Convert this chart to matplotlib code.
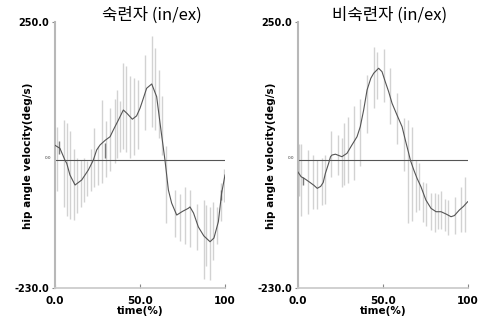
import matplotlib
matplotlib.use("Agg")
import matplotlib.pyplot as plt

# ---- data: mean curves (time %, deg/s) ----
exp_t = [0, 2.9, 5.9, 6.9, 8.8, 11.8, 15.7, 19.6, 20.6, 22.5, 24.5, 26.5, 29.5,
         32.4, 34.3, 37.3, 40.2, 42.5, 45.5, 48, 50, 51, 53.9, 56.9, 59.8,
         61.8, 64.7, 66.7, 68.6, 71.6, 75, 78.4, 79.4, 81.5, 84.3, 87.5,
         91.2, 93.5, 96.1, 98, 100]
exp_v = [27, 21.6, 0, -5.4, -26.5, -44.5, -35.5, -17.5, -11.5, 0, 18.6, 27.6,
         36, 42.5, 54.6, 72.6, 90.6, 84, 74, 80, 93.7, 102.7, 129.7, 137.5,
         114.6, 66.7, 0, -53.5, -77, -98.6, -92, -86.5, -84, -95, -119.9,
         -136, -146.7, -140, -110.6, -59.5, -26.5]

nov_t = [0, 2, 4.5, 7.2, 9.5, 11.5, 13.5, 15, 16.3, 18.2, 19.3, 20.2, 22.2,
         26, 29, 31.9, 34.9, 36.8, 38.8, 40.8, 43, 44.7, 47.6, 49.6, 51.5,
         53.5, 55.5, 58.4, 61.4, 63.3, 65.3, 66.3, 68.3, 70.2, 72.5, 75.4,
         78.4, 81.4, 84.3, 87.3, 90.2, 92.2, 95.1, 97.5, 100]
nov_v = [-20.5, -29.5, -34, -39.8, -45, -50.5, -47, -40, -23.4, -5.4, 6.5,
         9.5, 11, 6.5, 12.6, 27.6, 42.5, 60.5, 90.6, 126.7, 147.7, 156.8,
         165.8, 159.6, 141.6, 123.6, 102.7, 81.6, 60.5, 36.6, 12.6, 0, -17.5,
         -32.4, -47.6, -71.5, -86.5, -92.6, -92.6, -96.8, -101.6, -99.5,
         -89.5, -83, -74.6]

# ---- data: SD bars (time %, low, high) ----
exp_bar_t = [1, 5, 7, 9, 11, 13, 15, 17, 19, 21, 23, 25, 27.5, 30, 32.5, 35,
             36.5, 38.5, 40, 42, 44, 46.5, 49, 53, 57, 59, 61, 63, 65.5, 70.5,
             73.5, 76.5, 79.5, 83.5, 87.5, 89, 91, 93, 95, 97.5, 99.5]
exp_bar_lo = [-55, -85, -100, -105, -108, -95, -85, -75, -65, -55, -48, -45,
              -40, -30, -20, -5, 5, 15, 20, 15, 5, 10, 20, 55, 60, 55, 40, 10,
              -113, -138, -145, -150, -156, -162, -213, -190, -216, -180,
              -150, -110, -75]
exp_bar_hi = [60, 72, 67, 52, 20, 5, 0, 5, -2, 20, 58, 25, 108, 70, 94, 110,
              127, 106, 175, 169, 151, 148, 145, 190, 223, 202, 163, 115, 25,
              -53, -60, -48, -54, -78, -72, -80, -84, -75, -84, -40, -15]

nov_bar_t = [0.5, 2.2, 6.2, 9, 11.5, 14, 16, 19.6, 23.5, 26, 27.4, 29.3, 32.9,
             36.4, 40.8, 44.7, 46.7, 50.6, 54.1, 58.4, 62.4, 65, 67.3, 69.5,
             71.5, 73.7, 75.2, 78.6, 80.6, 82.5, 84.5, 86.4, 88.4, 92.3, 96.3,
             98.2]
nov_bar_lo = [-65, -100, -97, -88, -88, -80, -78, -30, -27, -48, -45, -40,
              -36, -10, 50, 95, 110, 105, 65, 30, -20, -113, -110, -93, -90,
              -111, -119, -126, -129, -124, -124, -127, -135, -132, -129,
              -129]
nov_bar_hi = [30, 29, 19, 10, 0, 5, 10, 52, 46, 40, 67, 78, 98, 110, 154,
              204, 195, 201, 166, 121, 76, 73, 60, 0, -5, -39, -41, -59, -59,
              -60, -56, -69, -72, -66, -48, -30]

# darker short segments (time %, low, high)
exp_dark = [(2.4, 12, 35), (29.4, 4, 31), (97.6, -71, -53)]
nov_dark = [(3, -45, -30)]

panels = [
    ("숙련자 (in/ex)", exp_t, exp_v, exp_bar_t, exp_bar_lo, exp_bar_hi, exp_dark, 0.57),
    ("비숙련자 (in/ex)", nov_t, nov_v, nov_bar_t, nov_bar_lo, nov_bar_hi, nov_dark, 0.54),
]

fig = plt.figure(figsize=(4.8, 3.24), dpi=100)
lefts = [55 / 480, 297.7 / 480]
bold = dict(fontweight="bold", family="DejaVu Sans")

for (title, t, v, bt, blo, bhi, dark, tx), left in zip(panels, lefts):
    ax = fig.add_axes([left, 36 / 324, 170 / 480, 266.5 / 324])

    ax.vlines(bt, blo, bhi, color="#d2d2d2", lw=1.0, zorder=1)
    for x, lo, hi in dark:
        ax.vlines(x, lo, hi, color="#7a7a7a", lw=1.0, zorder=2)
    ax.axhline(0, color="#555555", lw=0.8, zorder=2)
    ax.plot(t, v, color="#555555", lw=0.8, zorder=3)

    ax.set_xlim(0, 100)
    ax.set_ylim(-230, 250)
    for s in ("top", "right"):
        ax.spines[s].set_visible(False)
    ax.spines["left"].set_color("#b8b8b8")
    ax.spines["left"].set_linewidth(1.5)
    ax.spines["bottom"].set_color("#c8c8c8")
    ax.spines["bottom"].set_linewidth(1.2)

    ax.set_yticks([-230, 250])
    ax.set_yticklabels(["-230.0", "250.0"], fontsize=7, **bold)
    ax.set_xticks([0, 50, 100])
    ax.set_xticklabels(["0.0", "50.0", "100"], fontsize=7.5, **bold)
    ax.tick_params(axis="y", length=2, pad=2, color="#888888")
    ax.tick_params(axis="x", length=3, direction="in", pad=6, color="#888888")
    ax.text(-0.02, 0, "0.0", transform=ax.get_yaxis_transform(),
            fontsize=3, ha="right", va="bottom", color="#333333")

    ax.set_xlabel("time(%)", fontsize=7.5, labelpad=0, **bold)
    ax.set_ylabel("hip angle velocity(deg/s)", fontsize=7.5, **bold)
    ax.yaxis.set_label_coords(-0.13, 0.495)

    ax.text(tx, 1.008, title, transform=ax.transAxes, ha="center",
            va="baseline", fontsize=12,
            family=["Noto Sans CJK KR", "DejaVu Sans"])

fig.savefig("out.png", dpi=100)
